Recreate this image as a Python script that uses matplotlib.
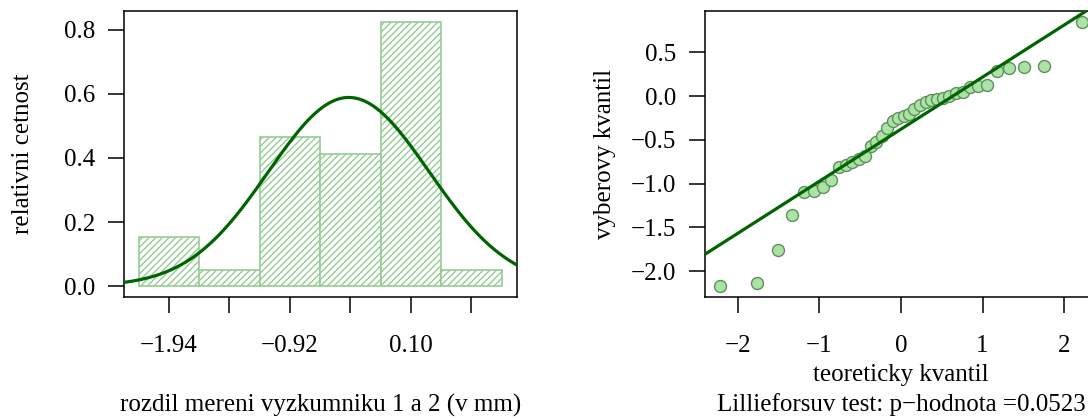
import numpy as np
import matplotlib
matplotlib.use("Agg")
import matplotlib.pyplot as plt
from matplotlib.ticker import FixedLocator, FuncFormatter
from statistics import NormalDist

# ---- data ----
sample_values = [-2.17, -2.13, -1.76, -1.36, -1.10, -1.08, -1.04, -0.96,
                 -0.81, -0.79, -0.75, -0.72, -0.69, -0.57, -0.52, -0.46,
                 -0.37, -0.28, -0.25, -0.23, -0.20, -0.15, -0.10, -0.07,
                 -0.05, -0.03, -0.02, 0.00, 0.03, 0.05, 0.10, 0.12,
                 0.13, 0.29, 0.32, 0.33, 0.34, 0.85]
bin_centers = [-1.94, -1.43, -0.92, -0.41, 0.10, 0.61]
bin_width = 0.51
hist_tick_labels = ["\u22121.94", "", "\u22120.92", "", "0.10", ""]
hist_yticks = [0.0, 0.2, 0.4, 0.6, 0.8]
qq_xticks = [-2, -1, 0, 1, 2]
qq_yticks = [-2.0, -1.5, -1.0, -0.5, 0.0, 0.5]
hist_xlim = [-2.319, 0.992]

xlab_left = "rozdil mereni vyzkumniku 1 a 2 (v mm)"
ylab_left = "relativni cetnost"
xlab_right = "teoreticky kvantil"
ylab_right = "vyberovy kvantil"
sub_right = "Lillieforsuv test: p\u2212hodnota =0.0523"

# ---- style ----
plt.rcParams["font.family"] = ["Liberation Serif", "DejaVu Serif"]
plt.rcParams["hatch.linewidth"] = 1.0
FS = 18.0
hist_col = "#96cc96"
curve_col = "#006400"
pt_face = "#abe3a4"
pt_edge = "#5e8f5e"

W, H = 1088, 419
fig = plt.figure(figsize=(W / 100, H / 100), dpi=100)

def fig_rect(x0, x1, ytop, ybot):
    return [x0 / W, (H - ybot) / H, (x1 - x0) / W, (ybot - ytop) / H]

def minus_fmt(fmt):
    return FuncFormatter(lambda v, p: (fmt % v).replace("-", "\u2212"))

def style_axes(ax):
    for s in ax.spines.values():
        s.set_linewidth(1.1)
        s.set_color("black")
    ax.tick_params(direction="out", length=11.3, width=1.1, labelsize=FS,
                   color="black")
    ax.tick_params(axis="y", pad=9.5)
    ax.tick_params(axis="x", pad=16)

# ---- left: histogram ----
ax1 = fig.add_axes(fig_rect(124, 516.7, 11, 296.7))
data = np.array(sample_values)
centers = np.array(bin_centers)
edges = np.append(centers - bin_width / 2, centers[-1] + bin_width / 2)
heights, _ = np.histogram(data, bins=edges, density=True)
ax1.bar(centers, heights, width=bin_width, facecolor="white",
        edgecolor=hist_col, hatch="/////", linewidth=1.2, zorder=1)
mu, sd = data.mean(), data.std(ddof=1)
xs = np.linspace(hist_xlim[0], hist_xlim[1], 400)
ax1.plot(xs, np.exp(-0.5 * ((xs - mu) / sd) ** 2) / (sd * np.sqrt(2 * np.pi)),
         color=curve_col, lw=2.3, zorder=3)
ax1.set_xlim(hist_xlim)
hmax = heights.max()
ax1.set_ylim(-0.04 * hmax, 1.04 * hmax)
ax1.xaxis.set_major_locator(FixedLocator(bin_centers))
ax1.set_xticklabels(hist_tick_labels)
ax1.yaxis.set_major_locator(FixedLocator(hist_yticks))
ax1.yaxis.set_major_formatter(minus_fmt("%.1f"))
style_axes(ax1)
ax1.set_xlabel(xlab_left, fontsize=FS)
ax1.xaxis.set_label_coords(0.5, (296.7 - 405) / 285.7)
ax1.xaxis.label.set_va("center")
ax1.set_ylabel(ylab_left, fontsize=FS)
ax1.yaxis.set_label_coords((23 - 124) / 392.7, 0.5)
ax1.yaxis.label.set_va("center")

# ---- right: QQ plot ----
ax2 = fig.add_axes(fig_rect(705, 1096.8, 11, 296.7))
n = len(sample_values)
srt = np.sort(data)
nd = NormalDist()
theo = np.array([nd.inv_cdf((i - 0.5) / n) for i in range(1, n + 1)])
ax2.scatter(theo, srt, s=8.6 ** 2, facecolor=pt_face, edgecolor=pt_edge,
            linewidth=1.0, zorder=2)
q1, q3 = np.quantile(srt, [0.25, 0.75])
z1, z3 = nd.inv_cdf(0.25), nd.inv_cdf(0.75)
slope = (q3 - q1) / (z3 - z1)
icpt = q1 - slope * z1
ax2.axline((0, icpt), slope=slope, color=curve_col, lw=2.3, zorder=3)
xr = theo.max() - theo.min()
yr = srt.max() - srt.min()
ax2.set_xlim(theo.min() - 0.04 * xr, theo.max() + 0.04 * xr)
ax2.set_ylim(srt.min() - 0.04 * yr, srt.max() + 0.04 * yr)
ax2.xaxis.set_major_locator(FixedLocator(qq_xticks))
ax2.xaxis.set_major_formatter(minus_fmt("%d"))
ax2.yaxis.set_major_locator(FixedLocator(qq_yticks))
ax2.yaxis.set_major_formatter(minus_fmt("%.1f"))
style_axes(ax2)
ax2.set_xlabel(xlab_right, fontsize=FS)
ax2.xaxis.set_label_coords(0.5, (296.7 - 375) / 285.7)
ax2.xaxis.label.set_va("center")
ax2.set_ylabel(ylab_right, fontsize=FS)
ax2.yaxis.set_label_coords((604.7 - 705) / 391.8, 0.5)
ax2.yaxis.label.set_va("center")
ax2.text(0.5, (296.7 - 405) / 285.7, sub_right, transform=ax2.transAxes,
         ha="center", va="center", fontsize=FS)

fig.savefig("out.png", dpi=100)
